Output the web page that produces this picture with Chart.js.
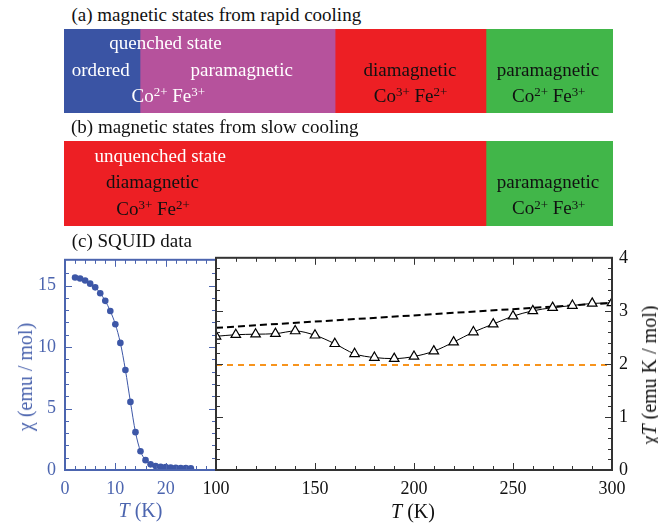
<!DOCTYPE html>
<html><head><meta charset="utf-8">
<script src="https://cdn.jsdelivr.net/npm/chart.js@4"></script>
<style>
html,body{margin:0;padding:0;background:#fff;}
#wrap{position:relative;width:658px;height:524px;overflow:hidden;font-family:"Liberation Serif","Times New Roman",serif;}
canvas{position:absolute;}
.t{position:absolute;white-space:nowrap;line-height:1;font-size:19px;color:#111;}
.c{transform:translateX(-50%);}
.w{color:#fff;}
.ax{font-size:20px;}
.rot{transform:translate(-50%,-50%) rotate(-90deg);}
sup{font-size:0.68em;line-height:0;vertical-align:baseline;position:relative;top:-0.45em;}
</style></head>
<body><div id="wrap">
<canvas id="aL" width="152" height="84" style="left:64px;top:29px"></canvas>
<canvas id="aR" width="397" height="84" style="left:216px;top:29px"></canvas>
<canvas id="bL" width="152" height="85" style="left:64px;top:141px"></canvas>
<canvas id="bR" width="397" height="85" style="left:216px;top:141px"></canvas>
<canvas id="cL" width="230" height="284" style="left:0px;top:240px"></canvas>
<canvas id="cR" width="478" height="284" style="left:180px;top:240px"></canvas>

<div class="t" style="left:71.5px;top:5.1px">(a) magnetic states from rapid cooling</div>
<div class="t c w" style="left:165.5px;top:33.4px">quenched state</div>
<div class="t c w" style="left:100.8px;top:60.1px">ordered</div>
<div class="t c w" style="left:241.7px;top:60.1px">paramagnetic</div>
<div class="t c w" style="left:168.3px;top:85.8px">Co<sup>2+</sup> Fe<sup>3+</sup></div>
<div class="t c" style="left:410px;top:60.1px">diamagnetic</div>
<div class="t c" style="left:410.5px;top:86.1px">Co<sup>3+</sup> Fe<sup>2+</sup></div>
<div class="t c" style="left:548px;top:60.1px">paramagnetic</div>
<div class="t c" style="left:548.7px;top:86.1px">Co<sup>2+</sup> Fe<sup>3+</sup></div>

<div class="t" style="left:71px;top:117.4px">(b) magnetic states from slow cooling</div>
<div class="t c w" style="left:160.3px;top:146.4px">unquenched state</div>
<div class="t c" style="left:152.5px;top:171.8px">diamagnetic</div>
<div class="t c" style="left:153px;top:199.1px">Co<sup>3+</sup> Fe<sup>2+</sup></div>
<div class="t c" style="left:548px;top:171.8px">paramagnetic</div>
<div class="t c" style="left:548.7px;top:198.4px">Co<sup>2+</sup> Fe<sup>3+</sup></div>

<div class="t" style="left:71.7px;top:230.8px">(c) SQUID data</div>
<div class="t c ax" style="left:140.5px;top:500.3px;color:#4C65AF"><i>T</i> (K)</div>
<div class="t c ax" style="left:413px;top:500.8px"><i>T</i> (K)</div>
<div class="t ax rot" style="left:25px;top:377px;color:#4C65AF">χ (emu / mol)</div>
<div class="t ax rot" style="left:649px;top:375px">χ<i>T</i> (emu K / mol)</div>
</div>
<script>
// ---- data ----
// (a) rapid cooling: state ranges in K (left panel 0-30 K, right panel 100-300 K)
const rapidLeftRanges = [[0, 15], [15, 30]];
const rapidRightRanges = [[100, 160], [160, 236], [236, 300]];
// (b) slow cooling
const slowLeftRanges = [[0, 30]];
const slowRightRanges = [[100, 236], [236, 300]];

// (c) SQUID: low-temperature susceptibility
const tempLow = [2,3,4,5,6,7,8,9,10,11,12,13,14,15,16,17,18,19,20,21,22,23,24,25];
const chiValues = [15.66,15.58,15.42,15.16,14.86,14.38,13.76,12.93,11.86,10.34,8.14,5.54,3.08,1.53,0.80,0.46,0.32,0.27,0.23,0.20,0.18,0.16,0.15,0.14];

// high-temperature chi*T
const tempHigh = [100,110,120,130,140,150,160,170,180,190,200,210,220,230,240,250,260,270,280,290,300];
const chiTValues = [2.52,2.55,2.56,2.57,2.62,2.54,2.38,2.19,2.12,2.10,2.14,2.24,2.41,2.60,2.75,2.90,3.00,3.06,3.10,3.14,3.15];

// reference lines
const refLineT = [100, 300];
const refLineHigh = [2.68, 3.15];
const refLineLow = [1.98, 1.98];

// tick labels
const lowTTicks = [0, 10, 20];
const highTTicks = [100, 150, 200, 250, 300];

// ---- styles ----
const C_BLUE = '#3A54A4', C_PINK = '#B6529C', C_RED = '#ED1F24', C_GREEN = '#41B649';
const AX_BLUE = '#4C65AF', DOT_BLUE = '#3D57A7', ORANGE = '#F7941D';
const FONT = {family: '"Liberation Serif", "Times New Roman", serif', size: 18};

function bandChart(id, ranges, colors, min, max) {
  new Chart(document.getElementById(id), {
    type: 'bar',
    data: {labels: ['s'], datasets: ranges.map((r, i) => ({
      data: [r], backgroundColor: colors[i], borderWidth: 0, grouped: false,
      barPercentage: 1, categoryPercentage: 1
    }))},
    options: {
      indexAxis: 'y', responsive: false, animation: false, devicePixelRatio: 1,
      layout: {padding: 0},
      plugins: {legend: {display: false}, tooltip: {enabled: false}},
      scales: {x: {display: false, min, max}, y: {display: false}}
    }
  });
}
bandChart('aL', rapidLeftRanges, [C_BLUE, C_PINK], 0, 30);
bandChart('aR', rapidRightRanges, [C_PINK, C_RED, C_GREEN], 100, 300);
bandChart('bL', slowLeftRanges, [C_RED], 0, 30);
bandChart('bR', slowRightRanges, [C_RED, C_GREEN], 100, 300);

const frameTicks = {
  id: 'frameTicks',
  afterDatasetsDraw(chart, args, o) {
    const {ctx, chartArea: a} = chart;
    const xs = chart.scales.x, ys = chart.scales.y;
    ctx.save();
    ctx.lineWidth = 1;
    const drawTicks = (scale, step, majorEvery, horiz, color) => {
      ctx.strokeStyle = color;
      const n = Math.round((scale.max - scale.min) / step);
      for (let i = 1; i < n; i++) {
        const v = scale.min + i * step;
        const p = Math.round(scale.getPixelForValue(v)) + 0.5;
        const len = (i % majorEvery === 0) ? o.majorLen : o.minorLen;
        ctx.beginPath();
        if (horiz) {
          ctx.moveTo(p, a.bottom); ctx.lineTo(p, a.bottom - len);
          ctx.moveTo(p, a.top); ctx.lineTo(p, a.top + len);
        } else {
          ctx.moveTo(a.left, p); ctx.lineTo(a.left + len, p);
          ctx.moveTo(a.right, p); ctx.lineTo(a.right - len, p);
        }
        ctx.stroke();
      }
    };
    drawTicks(xs, o.xStep, o.xMajor, true, o.color);
    drawTicks(ys, o.yStep, o.yMajor, false, o.color);
    ctx.strokeStyle = o.color;
    ctx.lineWidth = 2;
    ctx.strokeRect(a.left, a.top, a.right - a.left, a.bottom - a.top);
    ctx.restore();
  }
};

const noGrid = {display: false, drawTicks: false};

new Chart(document.getElementById('cL'), {
  type: 'scatter',
  data: {datasets: [{
    data: tempLow.map((t, i) => ({x: t, y: chiValues[i]})),
    showLine: true, borderColor: DOT_BLUE, backgroundColor: DOT_BLUE,
    borderWidth: 1, pointRadius: 3.3, pointBorderWidth: 0,
    cubicInterpolationMode: 'monotone'
  }]},
  options: {
    responsive: false, animation: false, devicePixelRatio: 1,
    layout: {padding: {top: 17, right: 14, left: 0, bottom: 0}},
    plugins: {legend: {display: false}, tooltip: {enabled: false},
      frameTicks: {color: AX_BLUE, xStep: 2, xMajor: 5, yStep: 1, yMajor: 5, minorLen: 4, majorLen: 7}},
    scales: {
      x: {type: 'linear', min: 0, max: 30, grid: noGrid, border: {display: false},
        afterBuildTicks(s) { s.ticks = lowTTicks.map(v => ({value: v})); },
        ticks: {color: AX_BLUE, font: FONT, padding: 8, maxRotation: 0},
        afterFit(s) { s.height = 54; }},
      y: {min: 0, max: 17.1, grid: noGrid, border: {display: false},
        ticks: {stepSize: 5, includeBounds: false, color: AX_BLUE, font: FONT, padding: 9},
        afterFit(s) { s.width = 65; }}
    }
  },
  plugins: [frameTicks]
});

new Chart(document.getElementById('cR'), {
  type: 'scatter',
  data: {datasets: [
    {data: tempHigh.map((t, i) => ({x: t, y: chiTValues[i]})),
     showLine: true, borderColor: '#000', backgroundColor: '#fff', borderWidth: 1,
     pointStyle: 'triangle', pointRadius: 5.5, pointBorderWidth: 1.2, pointBorderColor: '#000',
     pointBackgroundColor: '#fff', cubicInterpolationMode: 'monotone'},
    {data: refLineT.map((t, i) => ({x: t, y: refLineHigh[i]})),
     showLine: true, borderColor: '#000', borderWidth: 2, borderDash: [7, 4], pointRadius: 0},
    {data: refLineT.map((t, i) => ({x: t, y: refLineLow[i]})),
     showLine: true, borderColor: ORANGE, borderWidth: 2, borderDash: [6, 5], pointRadius: 0}
  ]},
  options: {
    responsive: false, animation: false, devicePixelRatio: 1,
    layout: {padding: {top: 17, right: 0, left: 36, bottom: 0}},
    plugins: {legend: {display: false}, tooltip: {enabled: false},
      frameTicks: {color: '#333', xStep: 10, xMajor: 5, yStep: 0.2, yMajor: 5, minorLen: 4, majorLen: 7}},
    scales: {
      x: {type: 'linear', min: 100, max: 300, grid: noGrid, border: {display: false},
        afterBuildTicks(s) { s.ticks = highTTicks.map(v => ({value: v})); },
        ticks: {color: '#111', font: FONT, padding: 8, maxRotation: 0},
        afterFit(s) { s.height = 54; }},
      y: {position: 'right', min: 0, max: 4, grid: noGrid, border: {display: false},
        ticks: {stepSize: 1, color: '#111', font: FONT, padding: 7},
        afterFit(s) { s.width = 46; }}
    }
  },
  plugins: [frameTicks]
});
</script>
</body></html>
